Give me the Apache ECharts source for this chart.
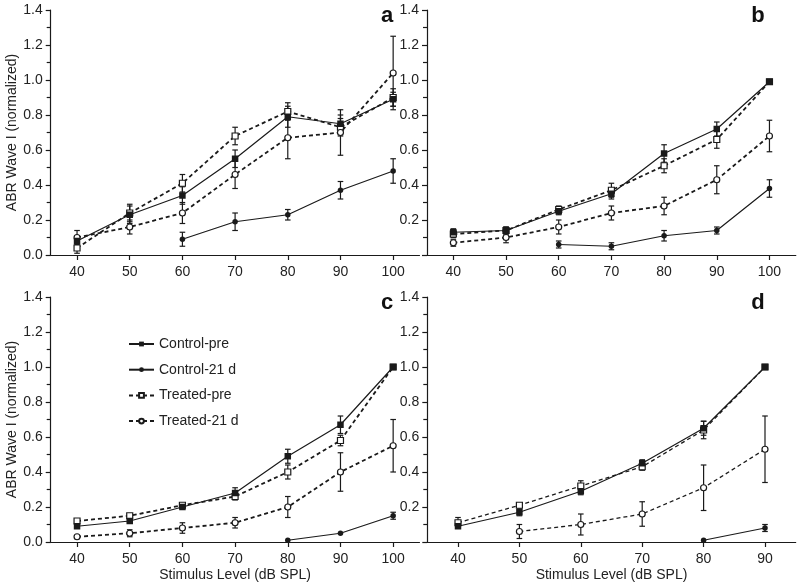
<!DOCTYPE html>
<html>
<head>
<meta charset="utf-8">
<script src="https://cdn.jsdelivr.net/npm/echarts@6/dist/echarts.min.js"></script>
<style>
html,body{margin:0;padding:0;background:#fff;}
#chart{width:798px;height:586px;}
</style>
</head>
<body>
<div id="chart"></div>
<script>
// ---------- data ----------
const seriesNames = ['Control-pre', 'Control-21 d', 'Treated-pre', 'Treated-21 d'];
const levels = [40, 50, 60, 70, 80, 90, 100];
const levelsD = [40, 50, 60, 70, 80, 90];
const xTicksABC = [40, 50, 60, 70, 80, 90, 100];
const xTicksD = [40, 50, 60, 70, 80, 90];
const panelLabels = ['a', 'b', 'c', 'd'];

// Panel a
const aCtrlPre     = [0.08, 0.23, 0.34, 0.55, 0.79, 0.75, 0.89];
const aCtrlPreErr  = [0.03, 0.05, 0.05, 0.05, 0.06, 0.05, 0.04];
const aCtrl21      = [null, null, 0.09, 0.19, 0.23, 0.37, 0.48];
const aCtrl21Err   = [null, null, 0.04, 0.05, 0.03, 0.05, 0.07];
const aTrtPre      = [0.04, 0.24, 0.41, 0.68, 0.82, 0.73, 0.90];
const aTrtPreErr   = [0.03, 0.05, 0.05, 0.05, 0.05, 0.05, 0.05];
const aTrt21       = [0.10, 0.16, 0.24, 0.46, 0.67, 0.70, 1.04];
const aTrt21Err    = [0.04, 0.04, 0.06, 0.08, 0.12, 0.13, 0.21];

// Panel b
const bCtrlPre     = [0.13, 0.14, 0.25, 0.35, 0.58, 0.72, 0.99];
const bCtrlPreErr  = [0.02, 0.02, 0.02, 0.03, 0.05, 0.04, 0.01];
const bCtrl21      = [null, null, 0.06, 0.05, 0.11, 0.14, 0.38];
const bCtrl21Err   = [null, null, 0.02, 0.02, 0.03, 0.02, 0.05];
const bTrtPre      = [0.12, 0.14, 0.26, 0.37, 0.51, 0.66, 0.99];
const bTrtPreErr   = [0.02, 0.02, 0.02, 0.04, 0.04, 0.05, 0.01];
const bTrt21       = [0.07, 0.10, 0.16, 0.24, 0.28, 0.43, 0.68];
const bTrt21Err    = [0.02, 0.03, 0.04, 0.04, 0.05, 0.08, 0.09];

// Panel c
const cCtrlPre     = [0.09, 0.12, 0.20, 0.28, 0.49, 0.67, 1.00];
const cCtrlPreErr  = [0.01, 0.01, 0.01, 0.03, 0.04, 0.05, null];
const cCtrl21      = [null, null, null, null, 0.01, 0.05, 0.15];
const cCtrl21Err   = [null, null, null, null, null, null, 0.02];
const cTrtPre      = [0.12, 0.15, 0.21, 0.26, 0.40, 0.58, 1.00];
const cTrtPreErr   = [0.01, 0.01, 0.01, 0.02, 0.04, 0.03, null];
const cTrt21       = [0.03, 0.05, 0.08, 0.11, 0.20, 0.40, 0.55];
const cTrt21Err    = [null, 0.02, 0.03, 0.03, 0.06, 0.11, 0.15];

// Panel d
const dCtrlPre     = [0.09, 0.17, 0.29, 0.45, 0.65, 1.00];
const dCtrlPreErr  = [0.01, 0.02, 0.02, 0.02, 0.04, null];
const dCtrl21      = [null, null, null, null, 0.01, 0.08];
const dCtrl21Err   = [null, null, null, null, null, 0.02];
const dTrtPre      = [0.11, 0.21, 0.32, 0.43, 0.64, 1.00];
const dTrtPreErr   = [0.03, 0.01, 0.03, 0.02, 0.05, null];
const dTrt21       = [null, 0.06, 0.10, 0.16, 0.31, 0.53];
const dTrt21Err    = [null, 0.04, 0.06, 0.07, 0.13, 0.19];

// ---------- layout ----------
const grids = [
  {left: 50.7, top: 10, width: 368.8, height: 245},
  {left: 427, top: 10, width: 368.8, height: 245},
  {left: 50.7, top: 297, width: 368.8, height: 245},
  {left: 427.3, top: 297, width: 368.4, height: 245}
];
const panels = [
  {x: levels, xMax: 105, ticks: xTicksABC, zero: true,
   vals: [aCtrlPre, aCtrl21, aTrtPre, aTrt21], errs: [aCtrlPreErr, aCtrl21Err, aTrtPreErr, aTrt21Err], dashW: 1.8},
  {x: levels, xMax: 105, ticks: xTicksABC, zero: false,
   vals: [bCtrlPre, bCtrl21, bTrtPre, bTrt21], errs: [bCtrlPreErr, bCtrl21Err, bTrtPreErr, bTrt21Err], dashW: 1.8},
  {x: levels, xMax: 105, ticks: xTicksABC, zero: true,
   vals: [cCtrlPre, cCtrl21, cTrtPre, cTrt21], errs: [cCtrlPreErr, cCtrl21Err, cTrtPreErr, cTrt21Err], dashW: 1.8},
  {x: levelsD, xMax: 95, ticks: xTicksD, zero: false,
   vals: [dCtrlPre, dCtrl21, dTrtPre, dTrt21], errs: [dCtrlPreErr, dCtrl21Err, dTrtPreErr, dTrt21Err], dashW: 1.3}
];

const ink = '#1a1a1a';
const textColor = '#222';
const font = 'Liberation Sans, Arial, Helvetica, sans-serif';

const styles = [
  {symbol: 'rect', size: 6.5, fill: ink, dashed: false, z: 5},
  {symbol: 'circle', size: 5.5, fill: ink, dashed: false, z: 5},
  {symbol: 'rect', size: 6, fill: '#fff', dashed: true, z: 3},
  {symbol: 'circle', size: 6, fill: '#fff', dashed: true, z: 4}
];

const xAxes = [], yAxes = [], series = [];
panels.forEach((p, i) => {
  xAxes.push({
    type: 'value', gridIndex: i, min: 35, max: p.xMax,
    axisLine: {show: true, lineStyle: {color: ink, width: 1.2}},
    splitLine: {show: false},
    axisTick: {show: true, inside: false, length: 5, lineStyle: {color: ink, width: 1.2}, customValues: p.ticks},
    axisLabel: {show: true, customValues: p.ticks, color: textColor, fontSize: 14, fontFamily: font, margin: 10},
    name: (i >= 2) ? 'Stimulus Level (dB SPL)' : '',
    nameLocation: 'middle', nameGap: 26,
    nameTextStyle: {color: textColor, fontSize: 14, fontFamily: font}
  });
  yAxes.push({
    type: 'value', gridIndex: i, min: 0, max: 1.4, interval: 0.2,
    axisLine: {show: true, lineStyle: {color: ink, width: 1.2}},
    splitLine: {show: false},
    axisTick: {show: true, inside: false, length: 5, lineStyle: {color: ink, width: 1.2}},
    minorTick: {show: true, splitNumber: 2, length: 4, lineStyle: {color: ink, width: 1.2}},
    axisLabel: {
      color: textColor, fontSize: 14, fontFamily: font, margin: 8,
      formatter: (v) => (!p.zero && Math.abs(v) < 1e-9) ? '' : v.toFixed(1)
    },
    name: (i % 2 === 0) ? 'ABR Wave I (normalized)' : '',
    nameLocation: 'middle', nameGap: 32, nameRotate: 90,
    nameTextStyle: {color: textColor, fontSize: 14, fontFamily: font}
  });

  p.vals.forEach((vals, s) => {
    const st = styles[s];
    const pts = [];
    const bars = [];
    p.x.forEach((x, k) => {
      if (vals[k] != null) {
        pts.push([x, vals[k]]);
        const e = p.errs[s][k];
        if (e != null) bars.push([x, vals[k] - e, vals[k] + e]);
      }
    });
    series.push({
      type: 'custom', name: seriesNames[s] + ' err', xAxisIndex: i, yAxisIndex: i, z: 2,
      data: bars, encode: {x: 0, y: [1, 2]},
      renderItem: (params, api) => {
        const x = api.value(0);
        const lo = api.coord([x, api.value(1)]);
        const hi = api.coord([x, api.value(2)]);
        const w = 2.8;
        const sty = {stroke: ink, lineWidth: 1.2};
        return {type: 'group', children: [
          {type: 'line', shape: {x1: lo[0], y1: lo[1], x2: hi[0], y2: hi[1]}, style: sty},
          {type: 'line', shape: {x1: lo[0] - w, y1: lo[1], x2: lo[0] + w, y2: lo[1]}, style: sty},
          {type: 'line', shape: {x1: hi[0] - w, y1: hi[1], x2: hi[0] + w, y2: hi[1]}, style: sty}
        ]};
      },
      silent: true
    });
    series.push({
      type: 'line', name: seriesNames[s], xAxisIndex: i, yAxisIndex: i, z: st.z,
      data: pts,
      symbol: st.symbol, symbolSize: st.size, showSymbol: true,
      itemStyle: {color: st.fill, borderColor: ink, borderWidth: st.fill === '#fff' ? 1.2 : 0},
      lineStyle: {color: ink, width: st.dashed ? p.dashW : 1.2, type: st.dashed ? [4, 3] : 'solid'},
      emphasis: {disabled: true}
    });
  });
});

const graphics = panelLabels.map((t, i) => ({
  type: 'text',
  x: i % 2 === 0 ? 387 : 758,
  y: i < 2 ? 16 : 303,
  style: {text: t, font: 'bold 22px ' + font, fill: '#111', textAlign: 'center', textVerticalAlign: 'middle'}
}));

const chart = echarts.init(document.getElementById('chart'), null, {renderer: 'canvas'});
chart.setOption({
  animation: false,
  backgroundColor: '#fff',
  grid: grids,
  xAxis: xAxes,
  yAxis: yAxes,
  legend: {
    data: seriesNames,
    orient: 'vertical', left: 123, top: 332,
    itemWidth: 25, itemHeight: 6, itemGap: 11.7,
    textStyle: {color: textColor, fontSize: 14, fontFamily: font},
    selectedMode: false
  },
  graphic: graphics,
  series: series
});
</script>
</body>
</html>
